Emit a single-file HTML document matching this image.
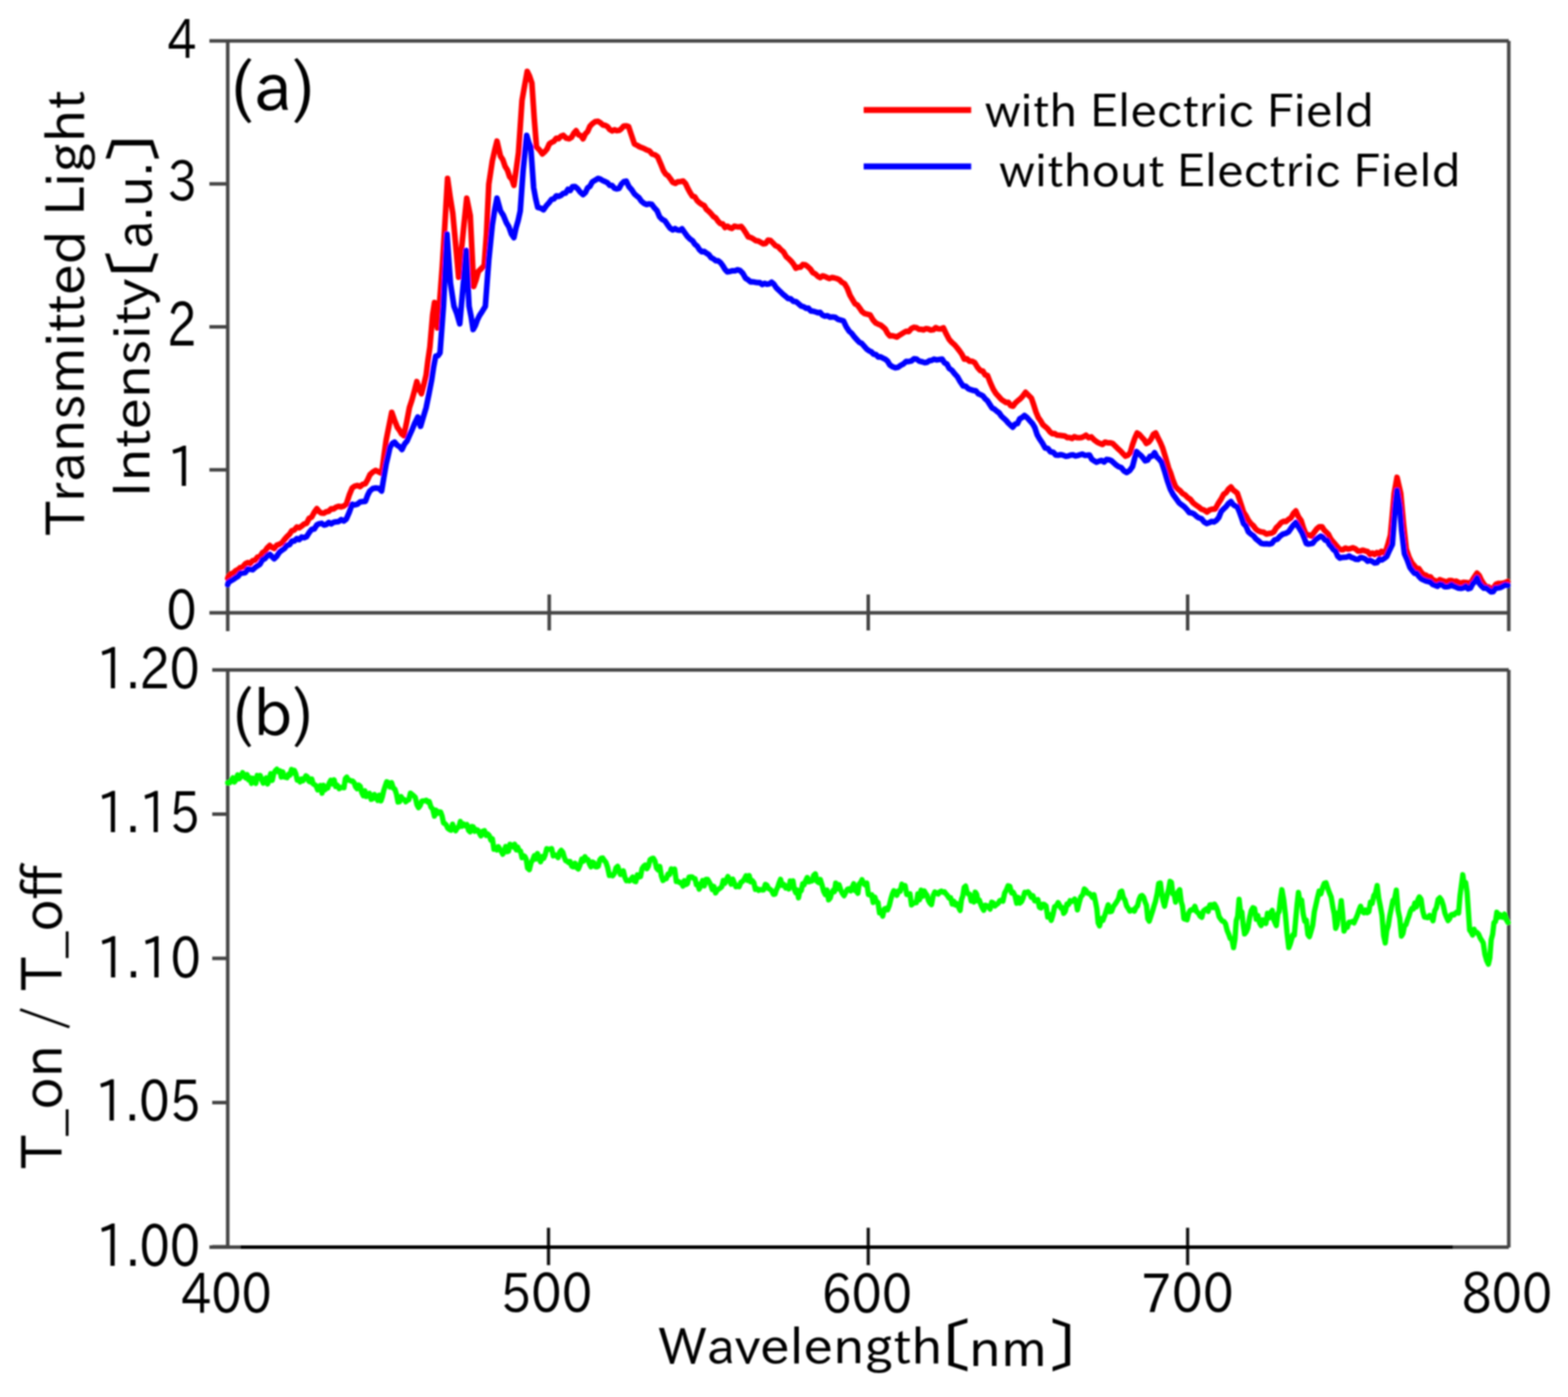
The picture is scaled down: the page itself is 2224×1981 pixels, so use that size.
<!DOCTYPE html>
<html><head><meta charset="utf-8"><title>Transmitted light spectra</title>
<style>html,body{margin:0;padding:0;background:#fff;}svg{display:block;}</style></head>
<body><svg width="2224" height="1981" viewBox="0 0 2224 1981">
<defs><filter id="soft" x="0" y="0" width="2224" height="1981" filterUnits="userSpaceOnUse"><feGaussianBlur stdDeviation="1"/></filter></defs>
<rect width="2224" height="1981" fill="#fff"/>
<g filter="url(#soft)">
<g stroke="#444" stroke-width="5" fill="none" stroke-linecap="butt">
<path d="M323 58 H2140 M323 58 V895 M2140 58 V895 M323 869 H2140"/>
<path d="M297 58 H323"/>
<path d="M297 260.75 H323"/>
<path d="M297 463.5 H323"/>
<path d="M297 666.25 H323"/>
<path d="M297 869 H323"/>
<path d="M779 843 V894"/>
<path d="M1231.5 843 V894"/>
<path d="M1684.5 843 V894"/>
<path d="M301 950 H2140 M323 950 V1768 M2140 950 V1769 M297 1768.5 H2140"/>
<path d="M301 1154.5 H323"/>
<path d="M301 1359 H323"/>
<path d="M301 1563.5 H323"/>
<path d="M301 1768 H323"/>
</g>
<g stroke="#111" stroke-width="4.5" fill="none">
<path d="M778 1741 V1794"/>
<path d="M1231.5 1741 V1794"/>
<path d="M1684.5 1741 V1794"/>
</g>
<path d="M341 1768.5 H2061" stroke="#000" stroke-width="5"/>
<polyline points="323.0,1110.0 325.9,1110.0 328.1,1106.5 330.3,1103.0 332.5,1109.0 334.7,1105.8 337.0,1098.8 339.4,1104.3 341.7,1101.0 344.1,1095.7 346.4,1100.9 348.5,1103.0 350.5,1098.4 352.6,1105.9 354.6,1102.8 356.7,1110.8 358.8,1103.6 360.8,1106.8 362.9,1110.9 364.9,1099.6 367.0,1103.5 369.1,1099.8 371.2,1105.8 373.3,1110.5 375.4,1105.6 377.5,1103.3 379.6,1111.7 381.7,1105.3 383.9,1097.1 386.1,1106.7 388.3,1096.9 390.5,1093.0 392.7,1090.8 394.9,1094.3 397.0,1093.2 399.0,1101.9 401.1,1094.5 403.1,1101.7 405.2,1102.1 407.2,1102.8 409.3,1097.9 411.3,1099.1 413.4,1091.1 415.4,1096.0 417.5,1092.4 419.5,1097.0 421.6,1106.2 423.6,1105.2 425.7,1108.8 427.8,1104.7 429.8,1107.1 431.9,1103.7 433.9,1100.1 436.0,1101.5 438.1,1107.9 440.1,1108.8 442.2,1104.7 444.2,1111.6 446.3,1112.8 448.4,1114.2 450.5,1120.1 452.6,1119.1 454.7,1113.9 456.8,1124.7 458.9,1113.6 461.0,1120.0 462.9,1115.8 464.9,1117.4 466.8,1110.8 469.2,1106.4 471.5,1111.7 473.9,1106.0 476.2,1115.3 478.6,1113.6 481.0,1118.3 483.5,1116.6 485.9,1116.7 487.9,1117.0 489.8,1104.2 491.8,1101.9 493.9,1106.2 495.9,1106.3 498.0,1107.7 500.0,1107.5 502.1,1109.6 504.3,1115.7 506.5,1118.5 508.7,1113.2 510.9,1114.9 513.1,1123.9 515.3,1128.4 517.5,1121.4 519.7,1129.5 521.9,1127.9 524.1,1125.0 526.4,1133.4 528.7,1132.6 531.0,1126.6 533.4,1129.5 535.7,1135.0 538.0,1127.5 540.3,1135.7 542.3,1129.9 544.4,1120.6 546.4,1114.6 548.5,1108.5 550.5,1109.5 553.0,1116.0 555.4,1109.8 557.9,1117.7 560.1,1119.0 562.3,1125.8 564.5,1137.3 566.7,1136.9 568.9,1129.7 571.1,1133.6 573.3,1133.7 575.5,1137.0 577.7,1134.8 579.9,1134.2 582.1,1124.7 584.3,1126.5 586.7,1128.4 589.0,1130.7 591.4,1141.2 593.7,1145.3 596.1,1142.0 598.2,1136.2 600.3,1135.7 602.5,1135.5 604.6,1134.7 606.7,1137.3 608.8,1136.6 611.3,1144.7 613.7,1147.1 616.2,1157.3 618.4,1148.9 620.6,1153.3 622.8,1151.2 625.0,1151.5 627.0,1157.1 629.1,1167.1 631.1,1168.0 633.2,1170.2 635.2,1174.6 637.4,1176.3 639.7,1177.3 641.9,1168.7 644.1,1175.1 646.3,1178.1 648.5,1173.9 650.7,1172.7 652.9,1164.9 655.2,1171.6 657.6,1168.4 659.9,1171.0 662.3,1169.3 664.6,1177.4 666.8,1179.6 669.0,1172.0 671.2,1172.4 673.4,1178.8 675.6,1176.4 677.8,1177.3 680.0,1181.4 682.2,1185.3 684.7,1178.8 687.1,1177.9 689.6,1184.7 691.8,1182.7 694.0,1184.9 696.2,1191.4 698.4,1189.5 700.6,1204.3 702.8,1201.9 704.9,1205.4 706.9,1200.7 709.0,1204.1 711.0,1207.3 713.1,1211.3 715.1,1206.6 717.2,1200.4 719.2,1207.7 721.3,1206.9 723.3,1197.2 725.5,1198.7 727.8,1200.9 730.0,1197.3 732.2,1205.1 734.2,1201.2 736.3,1206.2 738.3,1206.8 740.4,1216.3 742.4,1213.4 744.4,1214.5 746.3,1218.4 748.3,1231.0 750.8,1233.3 753.2,1223.5 755.7,1219.1 757.9,1213.4 760.1,1218.2 762.3,1210.3 764.5,1216.6 766.7,1222.1 768.9,1214.7 771.1,1217.2 773.3,1212.2 775.5,1203.5 777.7,1204.2 780.0,1204.2 782.4,1203.3 784.7,1213.6 787.1,1212.1 789.4,1213.5 791.6,1216.1 793.8,1208.5 796.0,1205.8 798.2,1208.4 800.3,1215.4 802.3,1220.4 804.4,1221.2 806.4,1223.2 808.5,1221.6 810.9,1228.2 813.2,1229.2 815.6,1224.1 817.9,1230.3 820.3,1232.2 822.7,1226.5 825.2,1218.2 827.6,1221.1 829.7,1214.8 831.8,1218.7 833.9,1218.7 836.0,1225.1 838.1,1229.1 840.2,1222.3 842.3,1223.3 844.4,1229.0 846.5,1229.2 848.6,1228.3 850.7,1219.5 852.8,1217.0 854.9,1216.6 857.0,1220.0 859.4,1222.9 861.9,1230.2 864.3,1241.5 866.7,1240.6 869.0,1241.9 871.4,1238.5 873.7,1230.8 876.1,1228.5 878.0,1234.3 880.0,1240.0 881.9,1239.5 884.1,1234.9 886.3,1244.2 888.5,1248.9 890.8,1248.4 893.0,1249.2 895.2,1246.6 897.4,1243.7 899.6,1249.4 901.8,1250.2 904.1,1240.6 906.3,1243.8 908.5,1243.0 910.7,1231.6 913.0,1228.4 915.2,1226.6 917.5,1231.9 919.8,1227.8 922.0,1219.1 924.3,1217.6 926.6,1217.0 928.9,1220.9 931.2,1230.8 933.5,1233.6 935.8,1228.6 938.1,1242.3 940.4,1248.6 942.7,1246.1 945.0,1246.1 947.4,1239.6 949.7,1240.1 952.1,1232.1 954.4,1235.0 956.9,1232.4 959.3,1250.0 961.8,1249.7 964.2,1251.8 966.4,1251.5 968.6,1256.5 970.7,1248.8 972.9,1254.3 975.1,1253.0 977.3,1243.7 979.4,1243.6 981.6,1243.5 983.8,1245.7 985.8,1245.9 987.7,1254.5 989.6,1253.7 991.6,1260.8 994.0,1256.2 996.5,1248.7 999.0,1256.1 1001.4,1246.9 1003.6,1247.1 1005.9,1250.8 1008.1,1254.8 1010.4,1261.5 1012.6,1257.0 1014.9,1266.2 1017.1,1262.6 1019.3,1260.8 1021.5,1259.4 1023.7,1257.5 1025.9,1248.6 1028.1,1252.7 1030.3,1247.3 1032.5,1243.0 1034.7,1248.1 1037.0,1253.8 1039.3,1246.6 1041.6,1252.3 1043.8,1257.4 1046.1,1256.6 1048.4,1257.3 1050.9,1251.0 1053.3,1249.8 1055.8,1246.4 1058.2,1241.8 1060.4,1248.4 1062.6,1241.5 1064.8,1250.4 1067.0,1248.7 1069.2,1251.7 1071.4,1261.2 1073.6,1260.1 1075.8,1262.6 1078.2,1261.3 1080.7,1261.9 1083.1,1261.9 1085.6,1254.0 1087.9,1255.5 1090.2,1260.2 1092.4,1261.0 1094.7,1263.4 1097.0,1268.2 1099.3,1267.8 1101.2,1261.9 1103.2,1257.8 1105.1,1251.8 1107.1,1246.9 1109.5,1255.4 1112.0,1254.4 1114.5,1259.2 1116.9,1256.3 1118.9,1260.7 1120.8,1249.3 1122.8,1251.7 1124.7,1249.1 1126.7,1261.3 1128.7,1265.9 1130.6,1262.0 1132.6,1273.1 1134.5,1263.3 1136.5,1263.1 1138.5,1253.4 1140.4,1254.8 1142.7,1248.9 1145.0,1244.3 1147.2,1250.4 1149.5,1249.7 1151.8,1249.1 1154.1,1241.2 1156.5,1239.1 1158.8,1249.7 1161.2,1251.6 1163.5,1247.1 1165.9,1254.8 1168.2,1263.8 1170.6,1268.7 1172.9,1262.0 1175.3,1276.0 1177.6,1273.3 1179.5,1266.6 1181.5,1262.6 1183.5,1264.3 1185.4,1252.2 1187.8,1260.4 1190.1,1254.6 1192.5,1262.0 1194.8,1266.8 1197.2,1270.2 1199.5,1265.5 1201.9,1261.0 1204.2,1260.2 1206.6,1263.3 1208.9,1257.7 1210.9,1253.2 1212.8,1263.0 1214.8,1263.6 1216.8,1266.7 1218.7,1253.5 1220.7,1251.5 1222.6,1247.5 1224.9,1252.8 1227.2,1254.8 1229.4,1252.1 1231.7,1268.5 1234.0,1269.3 1236.3,1268.9 1238.5,1279.8 1240.8,1272.0 1243.0,1278.6 1245.3,1279.7 1247.5,1294.4 1249.8,1291.6 1252.0,1299.2 1254.3,1289.0 1256.7,1288.1 1259.0,1290.0 1261.4,1283.8 1263.7,1274.3 1265.7,1267.8 1267.8,1263.1 1269.8,1264.9 1272.1,1269.5 1274.5,1263.3 1276.8,1263.8 1279.2,1253.9 1281.5,1258.3 1283.8,1255.9 1286.1,1268.4 1288.3,1268.5 1290.6,1267.3 1292.9,1283.2 1295.2,1280.8 1297.4,1280.2 1299.7,1280.1 1301.9,1267.5 1304.2,1275.8 1306.4,1262.3 1308.7,1271.0 1310.9,1263.4 1312.9,1266.9 1314.8,1269.5 1316.8,1276.7 1318.7,1280.2 1321.2,1282.8 1323.6,1270.1 1326.0,1264.8 1328.5,1266.5 1330.7,1267.8 1332.9,1264.6 1335.1,1263.6 1337.3,1265.2 1339.5,1264.5 1341.7,1267.5 1343.9,1269.9 1346.1,1273.4 1348.3,1273.1 1350.6,1282.0 1352.8,1278.0 1355.1,1283.4 1357.3,1281.4 1359.6,1286.3 1361.8,1291.0 1363.8,1275.6 1365.7,1270.2 1367.6,1258.3 1369.6,1256.5 1371.6,1265.1 1373.5,1267.8 1375.5,1268.0 1377.5,1277.6 1379.5,1274.9 1381.4,1279.0 1383.3,1265.1 1385.3,1268.3 1387.2,1277.5 1389.2,1276.7 1391.1,1282.3 1393.1,1287.1 1395.3,1290.8 1397.6,1283.7 1399.8,1284.4 1402.1,1286.0 1404.3,1289.2 1406.6,1279.3 1408.8,1280.6 1411.1,1284.8 1413.4,1282.6 1415.7,1281.1 1417.9,1277.4 1420.2,1276.2 1422.5,1277.9 1425.0,1266.4 1427.4,1262.1 1429.8,1256.0 1432.3,1256.8 1434.8,1266.1 1437.2,1265.4 1439.6,1270.1 1442.1,1280.8 1444.4,1272.5 1446.7,1280.6 1448.9,1278.6 1451.2,1273.3 1453.5,1265.3 1455.8,1265.9 1458.1,1264.6 1460.5,1267.6 1462.8,1272.3 1465.2,1270.3 1467.5,1277.4 1469.8,1277.5 1472.1,1275.8 1474.3,1286.5 1476.6,1287.5 1478.9,1282.3 1481.2,1282.5 1483.7,1284.6 1486.1,1300.4 1488.5,1296.9 1491.0,1305.2 1493.5,1296.9 1495.9,1285.6 1498.3,1284.6 1500.8,1280.0 1502.8,1283.4 1504.8,1287.6 1506.7,1287.1 1508.7,1295.1 1511.0,1292.1 1513.3,1282.1 1515.6,1282.7 1517.8,1277.2 1520.1,1278.5 1522.4,1276.9 1524.3,1274.9 1526.3,1279.0 1528.2,1290.2 1530.7,1280.0 1533.1,1271.6 1535.5,1269.2 1538.0,1260.6 1540.3,1262.4 1542.6,1266.8 1544.8,1266.8 1547.1,1269.0 1549.4,1272.6 1551.7,1268.7 1553.7,1278.2 1555.7,1288.4 1557.6,1308.6 1559.6,1312.9 1562.0,1302.5 1564.4,1305.0 1566.9,1298.3 1569.3,1290.8 1571.8,1283.1 1574.2,1292.9 1576.6,1292.4 1579.1,1285.7 1581.5,1282.3 1584.0,1278.6 1586.5,1274.5 1588.9,1264.9 1591.1,1263.6 1593.4,1272.8 1595.6,1276.2 1597.9,1284.6 1600.1,1287.9 1602.4,1292.0 1604.6,1291.2 1606.8,1290.0 1609.0,1292.0 1611.2,1286.8 1613.4,1284.6 1615.6,1275.8 1617.8,1270.7 1620.0,1269.8 1622.2,1272.6 1624.2,1279.1 1626.1,1283.9 1628.0,1302.6 1630.0,1306.3 1632.3,1299.3 1634.5,1292.6 1636.8,1284.8 1639.0,1277.8 1641.3,1267.4 1643.5,1252.8 1645.8,1252.0 1647.8,1267.2 1649.7,1277.5 1651.7,1285.1 1653.7,1276.3 1655.7,1268.0 1657.6,1260.9 1659.6,1249.9 1661.5,1251.1 1663.5,1267.9 1665.5,1268.4 1667.4,1279.2 1669.4,1267.4 1671.3,1264.2 1673.3,1261.6 1675.3,1278.5 1677.2,1284.9 1679.2,1302.7 1681.4,1303.5 1683.7,1304.3 1685.9,1295.1 1688.1,1291.0 1690.3,1289.8 1692.6,1290.2 1694.8,1285.1 1697.2,1292.8 1699.7,1294.6 1702.1,1298.9 1704.6,1300.8 1706.9,1291.9 1709.2,1290.0 1711.4,1288.5 1713.7,1292.4 1716.0,1283.3 1718.3,1283.1 1720.5,1287.0 1722.7,1282.1 1724.9,1285.8 1727.1,1291.6 1729.3,1300.2 1731.5,1303.4 1733.7,1306.1 1735.9,1306.6 1738.2,1309.9 1740.5,1319.2 1742.8,1324.7 1745.0,1330.9 1747.3,1332.3 1749.6,1343.8 1751.6,1332.2 1753.5,1305.3 1755.5,1299.1 1757.5,1275.3 1759.5,1293.7 1761.4,1293.0 1763.3,1311.5 1765.3,1324.3 1767.7,1321.3 1770.0,1316.0 1772.4,1301.3 1774.7,1291.3 1777.1,1287.1 1779.4,1288.1 1781.8,1303.5 1784.1,1298.3 1786.5,1308.6 1788.8,1312.5 1791.0,1304.4 1793.3,1306.7 1795.5,1309.6 1797.8,1295.1 1800.0,1301.6 1802.3,1294.2 1804.5,1291.0 1806.4,1303.6 1808.4,1308.2 1810.3,1312.5 1812.3,1296.0 1814.2,1292.6 1816.2,1274.1 1818.2,1261.6 1820.7,1275.5 1823.1,1295.8 1825.5,1323.1 1828.0,1343.8 1830.0,1338.7 1831.9,1332.2 1833.8,1325.6 1835.8,1326.2 1837.8,1303.8 1839.7,1283.2 1841.7,1265.5 1843.9,1279.2 1846.2,1276.4 1848.4,1295.9 1850.6,1306.1 1852.8,1305.0 1855.1,1325.2 1857.3,1328.2 1859.6,1320.4 1861.9,1312.3 1864.2,1293.0 1866.4,1283.3 1868.7,1272.9 1871.0,1263.6 1873.5,1267.6 1875.9,1258.9 1878.3,1252.8 1880.8,1251.8 1883.2,1259.6 1885.7,1266.3 1888.1,1272.0 1890.6,1287.1 1892.5,1296.2 1894.5,1316.4 1896.5,1311.3 1898.5,1293.8 1900.4,1293.2 1902.4,1277.3 1904.3,1295.3 1906.3,1320.3 1908.6,1314.3 1911.0,1315.0 1913.3,1307.7 1915.7,1307.6 1918.0,1306.6 1920.4,1308.7 1922.7,1303.4 1925.1,1298.1 1927.4,1291.2 1929.8,1285.1 1932.1,1292.4 1934.5,1294.4 1936.8,1290.5 1939.2,1294.4 1941.5,1292.9 1943.9,1279.2 1946.2,1281.3 1948.6,1269.9 1950.9,1266.7 1953.3,1255.7 1955.6,1274.0 1957.9,1285.3 1960.2,1298.2 1962.5,1326.8 1964.8,1337.1 1966.9,1319.8 1969.0,1312.6 1971.2,1298.7 1973.3,1288.8 1975.7,1277.1 1978.1,1274.4 1980.5,1262.2 1982.9,1290.6 1985.4,1302.3 1987.8,1327.4 1989.9,1323.9 1992.0,1313.2 1994.2,1311.0 1996.3,1304.5 1998.4,1299.1 2000.5,1292.0 2002.6,1288.0 2004.7,1288.8 2006.8,1280.5 2009.0,1286.0 2011.1,1276.0 2013.2,1271.8 2015.6,1275.1 2018.0,1292.0 2020.4,1300.5 2022.8,1300.8 2025.2,1301.3 2027.7,1298.2 2030.1,1300.2 2032.5,1305.7 2034.9,1291.8 2037.3,1287.2 2039.8,1275.5 2042.2,1273.1 2044.6,1276.4 2047.0,1283.6 2049.4,1294.8 2051.8,1300.8 2053.9,1305.5 2056.1,1302.8 2058.2,1297.3 2060.3,1296.6 2062.4,1297.4 2064.6,1294.6 2066.7,1293.3 2068.8,1294.8 2070.8,1270.5 2072.8,1255.4 2074.8,1240.4 2076.8,1255.0 2078.8,1251.3 2080.8,1264.6 2082.7,1291.8 2084.5,1319.0 2086.6,1321.7 2088.7,1325.9 2090.8,1317.7 2092.9,1322.6 2095.1,1322.3 2097.3,1324.9 2099.4,1329.9 2101.6,1333.4 2103.8,1337.1 2106.2,1353.5 2108.7,1362.1 2111.1,1367.3 2113.1,1358.4 2115.1,1332.4 2117.1,1325.0 2119.1,1308.0 2121.1,1307.0 2123.1,1293.6 2125.2,1300.9 2127.3,1296.8 2129.5,1300.2 2131.6,1300.8 2134.0,1296.2 2136.5,1304.1 2138.9,1308.1" fill="none" stroke="#00ff00" stroke-width="7.5" stroke-linejoin="round" stroke-linecap="round"/>
<polyline points="323.0,820.0 324.2,817.3 327.5,813.8 330.9,812.5 334.2,809.3 337.6,807.7 340.9,804.8 344.4,803.6 347.9,799.6 351.4,797.7 354.8,799.2 358.3,795.2 361.8,794.4 365.3,789.9 368.7,789.4 372.2,783.8 375.7,781.8 379.1,776.9 382.6,773.5 385.8,776.2 388.9,777.7 392.5,773.1 396.2,771.9 399.9,769.6 403.5,765.0 407.0,761.0 410.5,757.7 414.0,752.6 417.5,751.6 420.9,747.4 424.4,748.4 427.9,746.0 431.3,743.1 434.8,742.2 438.4,735.1 442.1,733.2 445.8,726.4 449.4,721.3 452.5,725.3 455.7,727.6 459.2,727.7 462.7,725.7 466.1,725.1 469.6,721.6 473.1,721.8 476.6,719.2 480.2,717.9 483.9,718.8 487.6,717.6 491.2,715.0 495.4,701.9 499.5,692.0 503.3,689.3 507.0,688.4 510.8,690.1 514.5,686.8 518.3,685.8 521.5,680.1 524.6,673.3 528.8,669.4 532.9,667.0 537.1,669.1 541.3,671.2 544.5,647.3 547.7,624.3 551.7,603.9 555.6,584.7 559.5,595.6 563.5,605.8 566.6,610.1 569.7,615.4 572.8,617.7 576.8,598.6 580.7,578.1 584.2,567.5 587.7,554.9 591.2,541.2 594.5,551.7 597.8,558.3 601.1,545.8 604.4,531.9 607.0,510.8 609.7,492.3 613.7,446.2 616.3,429.0 620.5,465.0 624.0,422.2 627.4,376.6 631.1,316.7 634.8,253.0 638.5,279.3 642.2,302.4 646.4,348.0 650.5,393.1 654.3,356.6 658.2,317.2 662.0,281.0 667.0,305.7 671.9,406.3 675.2,396.9 678.5,384.9 682.6,381.0 686.7,376.6 690.0,332.1 693.3,261.2 698.3,228.2 701.6,213.3 704.9,200.1 709.9,221.6 713.2,226.5 716.5,236.2 719.8,241.4 722.8,250.5 725.9,254.0 728.9,262.8 732.1,240.9 735.4,216.6 740.4,142.4 744.1,121.4 747.8,101.2 751.1,108.1 754.4,117.7 757.7,167.2 761.0,208.4 765.1,212.5 769.2,218.3 772.5,215.3 775.8,211.5 779.1,204.1 782.4,201.8 785.7,200.3 789.0,196.0 792.3,196.7 795.6,193.2 798.9,191.9 803.0,195.9 807.2,196.8 810.5,194.9 813.8,189.2 817.1,185.3 820.4,191.1 823.7,192.2 827.0,196.8 830.3,189.8 833.5,186.5 836.8,178.9 840.1,175.4 844.2,172.5 848.4,172.1 851.7,174.1 855.0,177.2 858.3,177.7 861.6,179.5 864.9,183.7 868.2,185.7 871.5,184.0 874.8,185.3 878.1,184.9 881.4,182.5 884.7,178.7 888.1,178.5 891.5,179.3 895.6,191.5 899.8,204.1 903.4,205.8 906.9,208.0 910.5,209.4 914.1,210.9 917.6,212.8 921.2,214.0 925.0,218.5 928.9,219.5 932.7,222.2 936.9,231.8 941.0,242.0 944.3,247.0 947.6,249.2 950.9,253.6 954.2,258.5 957.9,260.0 961.6,257.7 965.3,257.4 969.0,256.8 972.3,260.2 975.6,267.2 978.9,273.2 982.2,278.2 985.5,279.2 988.8,284.5 992.1,287.4 995.4,289.8 998.7,291.3 1002.0,296.9 1005.3,299.6 1008.6,303.0 1011.9,307.0 1015.2,309.0 1018.5,313.7 1021.7,317.1 1025.0,317.5 1028.3,322.7 1031.6,320.7 1034.9,322.9 1038.2,323.9 1041.5,320.8 1044.8,321.4 1048.1,321.7 1051.4,321.1 1054.7,325.3 1058.0,330.4 1061.3,335.9 1064.9,336.8 1068.4,338.7 1072.0,341.2 1075.6,341.7 1079.1,343.7 1082.7,345.8 1086.0,345.3 1089.3,340.6 1092.6,340.9 1096.3,344.5 1100.0,348.4 1103.8,350.0 1107.5,354.0 1111.3,357.3 1115.2,364.0 1119.0,367.2 1122.3,370.6 1125.6,374.7 1128.9,380.4 1132.2,378.9 1135.5,378.7 1138.8,375.1 1142.1,375.5 1145.7,378.1 1149.3,381.4 1153.0,386.7 1156.6,388.5 1160.2,392.0 1163.5,393.7 1166.7,391.2 1170.0,392.2 1173.3,393.7 1176.6,395.0 1179.8,393.5 1183.1,394.0 1186.8,395.0 1190.5,396.6 1194.2,400.3 1197.9,402.2 1201.7,408.7 1205.6,418.8 1209.4,425.3 1212.7,430.8 1216.0,432.3 1219.3,436.8 1222.6,441.8 1226.5,444.7 1230.3,445.6 1234.2,446.7 1238.3,453.7 1242.4,458.2 1245.7,459.7 1249.0,460.9 1252.3,463.6 1255.6,466.5 1258.9,472.6 1262.2,476.4 1265.5,476.0 1268.8,476.9 1272.1,478.0 1275.4,475.6 1278.7,473.6 1282.0,471.5 1285.3,469.8 1289.0,470.2 1292.7,465.9 1296.4,464.1 1300.1,464.8 1303.4,466.9 1306.7,467.0 1310.0,467.8 1313.3,465.9 1316.6,466.5 1320.2,468.0 1323.7,467.6 1327.3,464.5 1330.9,466.3 1334.4,466.4 1338.0,464.8 1342.2,473.7 1346.3,481.3 1350.0,485.5 1353.7,488.7 1357.4,493.0 1361.1,497.8 1364.4,502.5 1367.7,509.3 1371.4,508.8 1375.1,512.2 1378.8,512.2 1382.5,514.3 1386.7,521.3 1390.8,525.8 1394.1,526.2 1397.3,531.8 1400.6,532.4 1404.8,543.1 1408.9,552.2 1412.6,558.0 1416.3,562.0 1420.0,566.2 1423.7,568.7 1427.0,570.8 1430.3,570.4 1433.6,575.2 1436.9,576.0 1440.1,571.4 1443.2,568.7 1446.4,566.2 1450.5,561.9 1454.6,556.3 1458.8,560.5 1462.9,564.5 1466.2,574.1 1469.4,584.3 1472.7,592.1 1476.0,596.8 1479.3,602.4 1482.6,605.1 1485.9,608.0 1489.2,612.3 1492.5,615.0 1495.8,614.7 1499.1,617.1 1502.4,617.2 1506.2,617.7 1510.1,618.2 1513.9,620.5 1517.2,620.6 1520.5,621.8 1523.8,619.2 1527.1,620.5 1530.4,620.8 1533.7,620.5 1537.0,619.2 1540.3,617.2 1544.2,620.7 1548.0,619.6 1551.9,623.8 1556.0,626.8 1560.1,628.8 1563.7,630.3 1567.3,627.0 1571.0,627.9 1574.6,627.9 1578.2,628.8 1581.5,632.2 1584.8,635.4 1588.7,638.9 1592.5,643.0 1596.4,646.9 1599.7,645.6 1603.0,642.0 1606.3,630.7 1609.5,621.6 1612.8,614.0 1616.1,616.2 1619.4,619.9 1622.7,623.4 1626.0,628.8 1629.3,627.0 1632.6,622.8 1635.9,616.0 1639.2,614.0 1642.5,621.1 1645.8,627.5 1649.1,635.4 1653.2,648.7 1657.4,663.4 1660.7,671.6 1663.9,681.6 1667.2,689.8 1670.5,693.4 1673.8,695.8 1677.1,699.7 1680.8,701.7 1684.5,705.6 1688.3,708.0 1692.0,712.8 1696.0,716.0 1700.0,718.7 1704.0,722.0 1707.9,723.2 1711.9,726.1 1715.8,723.0 1719.8,721.9 1723.7,721.7 1727.7,714.3 1731.6,708.3 1735.6,700.9 1739.1,698.6 1742.5,693.5 1746.0,690.5 1749.0,694.7 1751.9,696.9 1754.9,699.4 1757.9,708.0 1760.8,716.7 1763.8,726.1 1767.3,731.5 1770.7,737.8 1774.2,742.4 1777.7,745.5 1781.1,750.1 1784.6,752.8 1788.5,754.1 1792.5,754.8 1796.4,757.3 1799.9,756.4 1803.3,756.1 1806.8,754.3 1810.3,748.2 1813.7,745.1 1817.2,741.0 1820.7,739.2 1824.1,739.5 1827.6,736.5 1831.1,734.3 1834.5,728.1 1838.0,724.6 1841.7,732.9 1845.4,738.0 1849.1,749.6 1852.8,758.8 1856.5,758.5 1860.2,760.2 1864.0,754.9 1867.7,749.9 1871.4,746.9 1875.1,746.9 1878.1,751.6 1881.0,754.5 1884.0,757.3 1887.0,763.3 1889.9,767.3 1892.9,770.6 1895.9,774.2 1898.8,777.5 1901.8,779.5 1905.1,779.4 1908.4,777.2 1911.8,778.7 1915.1,778.0 1918.8,776.8 1922.5,778.2 1926.3,781.5 1930.0,781.2 1933.3,780.2 1936.6,781.3 1939.9,782.2 1943.2,786.2 1946.5,784.2 1949.8,786.4 1953.0,783.5 1956.1,785.7 1959.3,781.8 1962.4,783.6 1965.6,781.2 1968.9,770.6 1972.2,758.7 1974.8,730.4 1977.5,699.4 1981.5,676.9 1986.7,699.4 1990.7,742.9 1994.6,778.5 1998.6,790.2 2002.6,798.3 2005.9,801.9 2009.2,806.1 2012.5,806.3 2015.8,811.5 2019.1,814.6 2022.4,815.5 2025.7,818.3 2028.9,817.9 2032.2,822.4 2035.5,823.4 2038.8,825.3 2042.1,822.0 2045.4,823.2 2048.7,824.3 2052.0,825.5 2055.3,823.3 2058.6,823.3 2061.9,824.7 2065.3,824.1 2068.7,825.9 2072.1,826.8 2075.5,825.8 2078.9,826.0 2082.3,826.5 2085.7,827.3 2088.8,821.9 2091.8,817.3 2094.9,812.8 2098.0,816.0 2101.0,822.5 2104.1,827.3 2107.6,831.9 2111.2,832.3 2114.7,835.3 2118.2,833.6 2121.8,828.6 2125.3,827.3 2128.6,827.4 2131.9,827.0 2135.1,826.0 2138.4,824.7" fill="none" stroke="#ff0000" stroke-width="8" stroke-linejoin="round" stroke-linecap="round"/>
<polyline points="323.0,829.0 324.2,825.7 327.5,823.7 330.9,821.6 334.2,819.3 337.6,817.3 340.9,813.0 344.4,812.6 347.9,812.0 351.4,807.0 354.8,807.4 358.3,807.9 361.8,804.8 365.3,802.3 368.7,800.1 372.2,793.9 375.7,792.1 379.1,788.1 382.6,786.0 385.8,789.3 388.9,792.3 392.5,788.9 396.2,783.1 399.9,780.2 403.5,777.7 407.0,773.3 410.5,772.4 414.0,767.2 417.5,767.2 420.9,763.8 424.4,765.3 427.9,761.6 431.3,762.5 434.8,761.0 438.4,755.3 442.1,750.7 445.8,750.0 449.4,744.3 452.8,742.6 456.2,742.1 459.6,744.6 463.0,743.6 466.4,740.8 469.8,742.9 473.2,740.7 476.6,740.0 480.2,739.7 483.9,736.8 487.6,738.8 491.2,736.0 495.4,726.3 499.5,715.0 503.3,716.0 507.0,714.9 510.8,711.7 514.5,711.2 518.3,710.9 521.5,702.2 524.6,696.2 528.8,692.7 532.9,692.0 537.1,692.4 541.3,696.2 544.5,676.7 547.6,658.7 550.3,647.2 553.0,634.8 556.3,628.9 559.6,626.9 563.1,631.1 566.6,633.3 570.1,637.5 573.6,630.1 577.2,625.6 580.7,617.7 584.7,608.8 588.6,599.4 592.6,591.3 596.5,604.5 600.5,591.2 604.4,578.1 608.3,559.1 612.3,538.5 615.1,520.0 618.0,505.0 621.0,504.6 624.1,500.3 629.0,434.3 634.0,332.1 638.9,401.4 643.9,434.3 648.0,444.8 652.1,459.1 655.1,425.5 658.2,391.2 661.2,355.2 665.3,434.3 668.2,448.9 671.1,467.3 674.1,461.9 677.1,453.6 680.1,447.5 684.2,441.2 688.4,434.3 693.3,368.4 698.3,318.9 701.6,298.0 704.9,281.0 709.9,299.1 714.0,305.5 718.1,315.6 721.7,321.5 725.3,331.7 728.9,337.0 731.9,323.2 734.9,312.8 737.9,299.1 742.0,241.4 747.0,191.9 749.9,201.9 752.8,208.4 756.9,266.1 759.8,281.9 762.7,294.1 766.8,295.1 770.9,297.4 774.7,291.9 778.6,287.6 782.4,282.6 785.7,282.0 789.0,277.7 792.3,278.6 795.6,277.1 798.9,274.3 802.2,273.8 805.5,268.5 808.8,270.1 812.1,264.7 815.4,264.4 819.3,267.6 823.1,272.6 827.0,276.0 830.3,273.1 833.5,266.3 836.8,264.1 840.1,257.9 844.2,255.6 848.4,252.9 851.7,254.1 855.0,256.1 858.3,257.5 861.6,259.1 864.9,262.8 868.2,263.1 871.5,266.9 874.8,267.8 878.1,267.0 881.5,260.9 884.9,257.7 888.2,256.8 892.1,264.8 895.9,269.0 899.8,274.9 903.1,277.8 906.4,280.4 909.7,285.2 913.0,288.1 916.8,290.0 920.7,289.1 924.5,289.8 928.2,294.8 931.9,298.7 935.6,307.5 939.3,311.2 943.0,313.0 946.8,318.6 950.5,323.7 954.2,326.0 957.5,324.1 960.8,326.1 964.1,326.6 967.4,324.4 971.2,329.9 975.1,335.4 978.9,339.2 982.2,341.3 985.5,346.3 988.8,348.9 992.1,354.0 995.4,357.0 998.7,356.5 1002.0,359.0 1005.3,361.0 1008.6,365.4 1011.9,367.0 1015.2,369.7 1018.5,369.8 1021.8,372.2 1025.1,376.6 1028.3,381.9 1031.6,385.4 1035.2,385.0 1038.9,383.9 1042.5,384.0 1046.2,382.6 1049.8,383.7 1053.6,387.6 1057.5,394.5 1061.3,396.9 1064.6,399.8 1067.9,399.6 1071.2,400.2 1074.5,400.7 1077.8,400.8 1081.1,403.5 1084.4,401.8 1087.7,403.0 1091.0,402.5 1094.3,400.2 1097.6,402.9 1100.9,407.9 1104.2,411.2 1107.4,414.2 1110.7,417.4 1114.0,420.0 1117.7,423.2 1121.4,423.7 1125.1,427.2 1128.9,427.7 1132.6,430.7 1136.3,433.9 1140.0,435.0 1143.3,437.2 1146.7,437.0 1150.0,441.0 1153.3,441.2 1156.7,442.3 1160.0,443.4 1163.3,443.1 1166.6,446.9 1169.9,448.3 1173.6,447.7 1177.3,449.8 1181.0,449.4 1184.7,450.0 1188.6,452.9 1192.4,453.9 1196.3,455.0 1200.4,463.6 1204.5,469.8 1208.1,472.8 1211.6,477.5 1215.2,481.5 1218.8,485.4 1222.3,487.0 1225.9,491.2 1229.2,494.9 1232.5,497.3 1235.8,498.9 1239.1,502.3 1242.4,502.7 1245.7,506.2 1249.0,506.1 1252.3,507.8 1255.6,509.3 1258.9,512.1 1262.2,517.6 1266.0,520.0 1269.9,521.5 1273.7,520.9 1277.6,518.0 1281.4,516.1 1285.3,512.6 1289.0,512.7 1292.7,511.9 1296.4,508.8 1300.1,509.3 1303.9,512.1 1307.8,513.0 1311.6,514.3 1314.9,513.7 1318.2,511.5 1321.5,511.0 1324.8,509.3 1328.7,510.4 1332.5,509.8 1336.4,509.3 1339.7,514.6 1343.0,516.2 1346.3,522.5 1350.1,525.0 1354.0,530.0 1357.8,534.1 1361.9,541.3 1366.0,547.2 1369.7,547.7 1373.5,551.2 1377.2,552.7 1380.9,553.8 1384.2,554.3 1387.5,558.3 1390.7,559.7 1394.0,561.3 1397.3,565.4 1400.6,568.3 1403.9,573.5 1407.2,578.6 1410.5,580.2 1413.8,583.1 1417.1,585.4 1420.4,590.1 1423.6,593.1 1426.8,595.9 1430.1,599.9 1433.3,602.9 1436.5,605.7 1439.8,601.4 1443.1,600.7 1446.4,593.8 1449.7,592.1 1453.0,589.2 1456.8,592.2 1460.7,596.6 1464.5,600.8 1467.8,606.4 1471.1,616.4 1474.4,622.2 1478.5,628.3 1482.6,635.4 1486.3,636.0 1490.0,640.8 1493.8,641.2 1497.5,645.3 1501.1,645.5 1504.6,644.7 1508.2,645.6 1511.8,647.1 1515.3,646.6 1518.9,645.3 1522.2,645.0 1525.5,646.6 1528.8,645.9 1532.1,644.8 1535.4,643.9 1538.7,645.7 1542.0,645.6 1545.3,645.3 1548.6,651.2 1551.9,653.5 1555.4,655.4 1559.0,653.9 1562.5,652.9 1566.0,655.1 1569.5,651.5 1573.1,651.9 1576.6,653.5 1579.9,656.5 1583.2,659.4 1586.5,661.7 1590.3,663.0 1594.2,667.8 1598.0,670.0 1602.2,667.4 1606.3,661.7 1609.2,650.5 1612.0,640.3 1615.1,643.3 1618.2,645.8 1621.3,649.4 1624.4,653.5 1627.7,652.5 1631.0,647.3 1634.3,646.7 1637.6,642.0 1640.9,648.1 1644.2,651.2 1647.5,655.2 1651.6,667.4 1655.7,681.5 1659.8,693.3 1664.0,701.3 1668.1,707.0 1672.2,712.8 1676.0,715.8 1679.9,718.7 1683.7,722.7 1687.0,727.0 1690.3,727.3 1693.6,728.8 1696.9,731.9 1700.2,734.3 1704.1,735.5 1708.0,740.2 1711.9,742.4 1715.2,741.1 1718.6,739.4 1721.9,740.2 1725.2,738.0 1728.7,733.9 1732.1,725.2 1735.6,721.7 1739.1,718.4 1742.5,713.9 1746.0,711.3 1749.0,715.5 1751.9,717.4 1754.9,718.7 1757.9,725.6 1760.8,733.6 1763.8,742.4 1767.3,746.0 1770.7,754.3 1774.2,757.3 1777.9,759.8 1781.6,764.4 1785.3,767.2 1789.0,770.6 1792.7,771.2 1796.5,771.0 1800.2,771.6 1803.9,770.6 1807.8,765.6 1811.8,764.7 1815.7,760.2 1819.7,757.4 1823.6,756.4 1827.6,754.3 1831.1,749.2 1834.5,744.6 1838.0,741.0 1841.0,746.1 1843.9,750.7 1846.9,755.8 1849.8,762.6 1852.8,770.6 1855.8,771.6 1858.7,771.0 1861.7,770.6 1865.7,765.3 1869.6,762.7 1873.6,760.2 1876.6,762.0 1879.5,765.9 1882.5,766.2 1885.5,772.2 1888.4,775.2 1891.4,779.5 1894.4,781.5 1897.3,788.5 1900.3,791.4 1903.6,790.4 1906.9,790.2 1910.3,790.0 1913.6,788.4 1916.6,790.4 1919.6,791.3 1922.6,792.9 1926.3,793.3 1930.0,790.4 1933.3,791.3 1936.6,792.6 1939.9,795.8 1943.2,794.5 1946.5,796.2 1949.8,798.3 1953.2,797.8 1956.6,792.9 1960.1,794.1 1963.5,791.7 1966.9,789.1 1970.9,780.2 1974.9,771.9 1978.8,719.2 1981.5,695.4 1985.4,719.2 1988.0,752.1 1992.0,785.1 1996.0,794.1 1999.9,804.9 2003.1,809.2 2006.3,812.9 2009.4,813.0 2012.6,817.5 2015.8,820.7 2019.1,822.4 2022.4,823.8 2025.7,824.7 2028.9,825.5 2032.2,828.8 2035.5,830.0 2038.8,831.4 2042.1,828.6 2045.4,829.4 2048.7,831.9 2052.0,832.0 2055.3,831.6 2058.6,829.2 2061.9,831.3 2065.3,832.6 2068.7,834.0 2072.1,834.4 2075.5,833.6 2078.9,831.4 2082.3,834.9 2085.7,833.9 2088.8,827.9 2091.8,824.8 2094.9,819.4 2098.2,827.2 2101.5,831.3 2104.8,834.1 2108.1,833.8 2111.4,836.4 2114.7,839.2 2117.8,839.1 2120.8,834.3 2123.9,833.9 2127.5,833.4 2131.2,831.6 2134.8,829.6 2138.4,830.0" fill="none" stroke="#0000ff" stroke-width="8" stroke-linejoin="round" stroke-linecap="round"/>
<path d="M1225 156 H1377.5" stroke="#ff0000" stroke-width="8.5"/>
<path d="M1225 236 H1377.5" stroke="#0000ff" stroke-width="8.5"/>
<g fill="#000">
<g id="t4" transform="matrix(0.82188 0 0 0.96223 39.901 2.553)"><text x="240" y="84" textLength="50.39" lengthAdjust="spacingAndGlyphs" style="font-family:'IPAPGothic', 'IPAGothic', 'Liberation Sans', 'Noto Sans CJK JP', sans-serif;font-size:80px;">4</text></g>
<g id="t3" transform="matrix(0.84052 0 0 0.98333 36.105 4.750)"><text x="240" y="285" textLength="50.39" lengthAdjust="spacingAndGlyphs" style="font-family:'IPAPGothic', 'IPAGothic', 'Liberation Sans', 'Noto Sans CJK JP', sans-serif;font-size:80px;">3</text></g>
<g id="t2" transform="matrix(0.82002 0 0 1.06835 40.288 -32.424)"><text x="240" y="490" textLength="50.39" lengthAdjust="spacingAndGlyphs" style="font-family:'IPAPGothic', 'IPAGothic', 'Liberation Sans', 'Noto Sans CJK JP', sans-serif;font-size:80px;">2</text></g>
<g id="t1" transform="matrix(0.86364 0 0 0.96966 34.273 21.877)"><text x="235" y="689" textLength="50.39" lengthAdjust="spacingAndGlyphs" style="font-family:'IPAPGothic', 'IPAGothic', 'Liberation Sans', 'Noto Sans CJK JP', sans-serif;font-size:80px;">1</text></g>
<g id="t0" transform="matrix(0.85266 0 0 0.97013 31.342 26.675)"><text x="240" y="893" textLength="50.39" lengthAdjust="spacingAndGlyphs" style="font-family:'IPAPGothic', 'IPAGothic', 'Liberation Sans', 'Noto Sans CJK JP', sans-serif;font-size:80px;">0</text></g>
<g id="b120" transform="matrix(0.84908 0 0 1.00343 18.084 -3.746)"><text x="140" y="977" textLength="172.31" lengthAdjust="spacingAndGlyphs" style="font-family:'IPAPGothic', 'IPAGothic', 'Liberation Sans', 'Noto Sans CJK JP', sans-serif;font-size:80px;">1.20</text></g>
<g id="b115" transform="matrix(0.84913 0 0 1.00343 18.076 -3.646)"><text x="140" y="1181" textLength="172.31" lengthAdjust="spacingAndGlyphs" style="font-family:'IPAPGothic', 'IPAGothic', 'Liberation Sans', 'Noto Sans CJK JP', sans-serif;font-size:80px;">1.15</text></g>
<g id="b110" transform="matrix(0.85915 0 0 1.01010 16.784 -12.793)"><text x="140" y="1386" textLength="172.31" lengthAdjust="spacingAndGlyphs" style="font-family:'IPAPGothic', 'IPAGothic', 'Liberation Sans', 'Noto Sans CJK JP', sans-serif;font-size:80px;">1.10</text></g>
<g id="b105" transform="matrix(0.86921 0 0 1.00057 13.087 -0.914)"><text x="140" y="1590" textLength="172.31" lengthAdjust="spacingAndGlyphs" style="font-family:'IPAPGothic', 'IPAGothic', 'Liberation Sans', 'Noto Sans CJK JP', sans-serif;font-size:80px;">1.05</text></g>
<g id="b100" transform="matrix(0.85786 0 0 1.01343 16.178 -24.514)"><text x="140" y="1796" textLength="172.31" lengthAdjust="spacingAndGlyphs" style="font-family:'IPAPGothic', 'IPAGothic', 'Liberation Sans', 'Noto Sans CJK JP', sans-serif;font-size:80px;">1.00</text></g>
<g id="x400" transform="matrix(0.85243 0 0 0.98038 39.322 36.535)"><text x="255" y="1862" textLength="151.17" lengthAdjust="spacingAndGlyphs" style="font-family:'IPAPGothic', 'IPAGothic', 'Liberation Sans', 'Noto Sans CJK JP', sans-serif;font-size:80px;">400</text></g>
<g id="x500" transform="matrix(0.86002 0 0 0.96340 97.645 67.142)"><text x="712" y="1862" textLength="151.17" lengthAdjust="spacingAndGlyphs" style="font-family:'IPAPGothic', 'IPAGothic', 'Liberation Sans', 'Noto Sans CJK JP', sans-serif;font-size:80px;">500</text></g>
<g id="x600" transform="matrix(0.85250 0 0 0.96340 170.867 68.146)"><text x="1166" y="1862" textLength="151.17" lengthAdjust="spacingAndGlyphs" style="font-family:'IPAPGothic', 'IPAGothic', 'Liberation Sans', 'Noto Sans CJK JP', sans-serif;font-size:80px;">600</text></g>
<g id="x700" transform="matrix(0.87044 0 0 0.96340 209.871 67.142)"><text x="1618" y="1862" textLength="151.17" lengthAdjust="spacingAndGlyphs" style="font-family:'IPAPGothic', 'IPAGothic', 'Liberation Sans', 'Noto Sans CJK JP', sans-serif;font-size:80px;">700</text></g>
<g id="x800" transform="matrix(0.85037 0 0 0.98207 311.028 33.431)"><text x="2072" y="1862" textLength="151.17" lengthAdjust="spacingAndGlyphs" style="font-family:'IPAPGothic', 'IPAGothic', 'Liberation Sans', 'Noto Sans CJK JP', sans-serif;font-size:80px;">800</text></g>
<g id="wl" transform="matrix(0.94143 0 0 0.91379 53.819 165.218)"><text x="935" y="1936" textLength="427.75" lengthAdjust="spacingAndGlyphs" style="font-family:'IPAPGothic', 'IPAGothic', 'Liberation Sans', 'Noto Sans CJK JP', sans-serif;font-size:78px;">Wavelength</text></g>
<g id="wlb1" transform="matrix(1.44222 0 0 1.07833 -584.288 -149.040)"><text x="1320" y="1936" textLength="42.89" lengthAdjust="spacingAndGlyphs" style="font-family:'IPAPGothic', 'IPAGothic', 'Noto Sans CJK JP', sans-serif;font-size:78px;">〔</text></g>
<g id="wlnm" transform="matrix(0.96442 0 0 0.93524 43.342 126.919)"><text x="1380" y="1936" textLength="115.06" lengthAdjust="spacingAndGlyphs" style="font-family:'IPAPGothic', 'IPAGothic', 'Liberation Sans', 'Noto Sans CJK JP', sans-serif;font-size:78px;">nm</text></g>
<g id="wlb2" transform="matrix(1.32680 0 0 1.07833 -465.960 -149.040)"><text x="1470" y="1936" textLength="42.89" lengthAdjust="spacingAndGlyphs" style="font-family:'IPAPGothic', 'IPAGothic', 'Noto Sans CJK JP', sans-serif;font-size:78px;">〕</text></g>
<g id="ya1" transform="matrix(0.98383 0 0 0.98558 2.563 9.959)"><text transform="translate(119 759) rotate(-90)" x="0" y="0" textLength="638.48" lengthAdjust="spacingAndGlyphs" style="font-family:'IPAPGothic', 'IPAGothic', 'Liberation Sans', 'Noto Sans CJK JP', sans-serif;font-size:78px;">Transmitted Light</text></g>
<g id="ya2" transform="matrix(0.93096 0 0 0.99738 12.140 9.013)"><text transform="translate(216 698) rotate(-90)" x="0" y="0" textLength="310.64" lengthAdjust="spacingAndGlyphs" style="font-family:'IPAPGothic', 'IPAGothic', 'Liberation Sans', 'Noto Sans CJK JP', sans-serif;font-size:78px;">Intensity</text></g>
<g id="ya3" transform="matrix(1.08411 0 0 1.39108 -15.587 -132.284)"><text transform="translate(216 390) rotate(-90)" x="0" y="0" textLength="42.89" lengthAdjust="spacingAndGlyphs" style="font-family:'IPAPGothic', 'IPAGothic', 'Noto Sans CJK JP', sans-serif;font-size:78px;">〔</text></g>
<g id="ya4" transform="matrix(0.95638 0 0 0.93392 9.819 25.863)"><text transform="translate(216 350) rotate(-90)" x="0" y="0" textLength="131.22" lengthAdjust="spacingAndGlyphs" style="font-family:'IPAPGothic', 'IPAGothic', 'Liberation Sans', 'Noto Sans CJK JP', sans-serif;font-size:78px;">a.u.</text></g>
<g id="ya5" transform="matrix(1.08696 0 0 1.40072 -15.017 -88.746)"><text transform="translate(216 230) rotate(-90)" x="0" y="0" textLength="42.89" lengthAdjust="spacingAndGlyphs" style="font-family:'IPAPGothic', 'IPAGothic', 'Noto Sans CJK JP', sans-serif;font-size:78px;">〕</text></g>
<g id="yb" transform="matrix(1.03734 0 0 0.96697 -3.454 54.729)"><text transform="translate(88 1656) rotate(-90)" x="0" y="0" textLength="441.69" lengthAdjust="spacingAndGlyphs" style="font-family:'IPAPGothic', 'IPAGothic', 'Liberation Sans', 'Noto Sans CJK JP', sans-serif;font-size:78px;">T_on / T_off</text></g>
<g id="pa" transform="matrix(1.10212 0 0 1.08827 -41.423 -17.544)"><text x="334" y="160" textLength="109.44" lengthAdjust="spacingAndGlyphs" style="font-family:'IPAPGothic', 'IPAGothic', 'Liberation Sans', 'Noto Sans CJK JP', sans-serif;font-size:90px;">(a)</text></g>
<g id="pb" transform="matrix(1.03677 0 0 1.05520 -18.777 -65.388)"><text x="336" y="1050" textLength="110.95" lengthAdjust="spacingAndGlyphs" style="font-family:'IPAPGothic', 'IPAGothic', 'Liberation Sans', 'Noto Sans CJK JP', sans-serif;font-size:86px;">(b)</text></g>
<g id="lg1" transform="matrix(1.00479 0 0 0.97820 -8.505 3.996)"><text x="1399" y="180" textLength="549.66" lengthAdjust="spacingAndGlyphs" style="font-family:'IPAPGothic', 'IPAGothic', 'Liberation Sans', 'Noto Sans CJK JP', sans-serif;font-size:66px;">with Electric Field</text></g>
<g id="lg2" transform="matrix(1.00372 0 0 0.99517 -5.682 1.992)"><text x="1418" y="264" textLength="652.23" lengthAdjust="spacingAndGlyphs" style="font-family:'IPAPGothic', 'IPAGothic', 'Liberation Sans', 'Noto Sans CJK JP', sans-serif;font-size:66px;">without Electric Field</text></g>
</g>
</g>
</svg></body></html>
